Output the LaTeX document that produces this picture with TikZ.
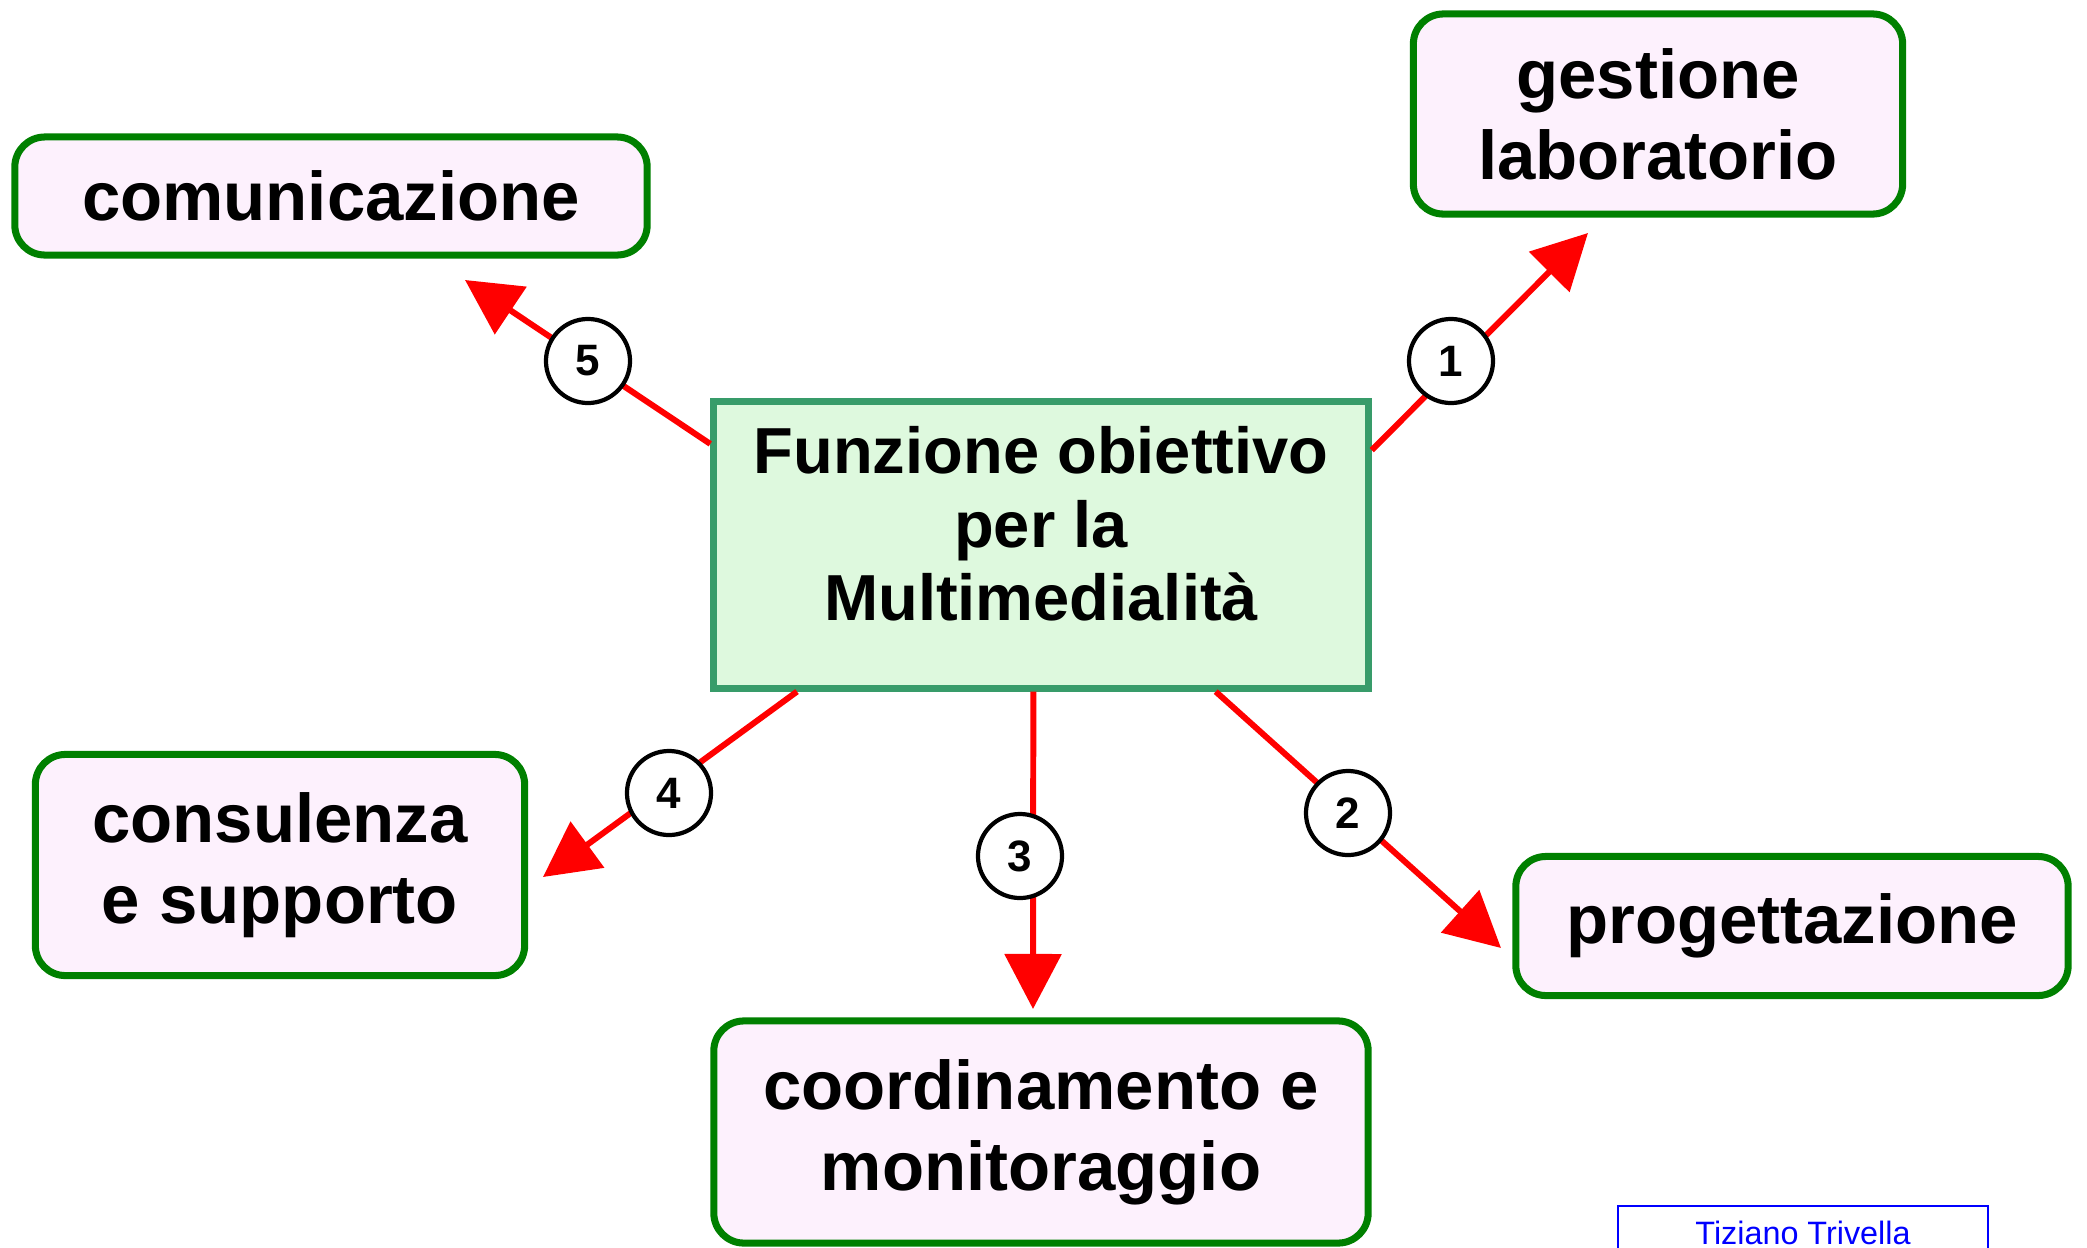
\documentclass[tikz,border=0pt]{standalone}
\usepackage{fontspec}
\setmainfont{Liberation Sans}
\usetikzlibrary{arrows.meta}
\definecolor{topicgreen}{RGB}{0,128,0}
\definecolor{maingreen}{RGB}{56,156,106}
\definecolor{mainfill}{RGB}{222,249,222}
\definecolor{topicfill}{RGB}{253,241,253}

\tikzset{
  topic/.style={draw=topicgreen,line width=2pt,fill=topicfill,rounded corners=0.3cm,
    align=center,inner sep=0pt,font=\bfseries\fontsize{19.6}{23}\selectfont},
  mainbox/.style={draw=maingreen,line width=2pt,fill=mainfill,align=center,inner sep=0pt,
    font=\bfseries\fontsize{18.5}{21}\selectfont},
  arr/.style={draw=red,line width=1.7pt,-{Triangle[length=0.55cm,width=0.56cm]}},
  num/.style={circle,draw=black,line width=1.2pt,fill=white,minimum size=0.84cm,inner sep=0pt,
    font=\bfseries\fontsize{12.5}{14}\selectfont},
  sign/.style={draw=blue,line width=0.6pt,text=blue,minimum width=3.7cm,minimum height=0.54cm,
    inner sep=0pt,font=\fontsize{9.2}{11}\selectfont}
}

\begin{document}
\begin{tikzpicture}[x=0.01cm,y=-0.01cm]
\useasboundingbox (0,0) rectangle (2087,1248);

\node[mainbox,minimum width=6.54cm,minimum height=2.86cm] (fo) at (1041,545)
  {Funzione obiettivo\\per la\\Multimedialità\rule[-0.43cm]{0pt}{0.1cm}};

\node[topic,minimum width=4.89cm,minimum height=2.00cm] (gest) at (1658,114) {gestione\\laboratorio};
\node[topic,minimum width=5.52cm,minimum height=1.39cm] (prog) at (1792,926) {progettazione};
\node[topic,minimum width=6.54cm,minimum height=2.22cm] (coord) at (1041,1132) {coordinamento e\\monitoraggio};
\node[topic,minimum width=4.89cm,minimum height=2.21cm] (cons) at (280,865) {consulenza\\e supporto};
\node[topic,minimum width=6.32cm,minimum height=1.18cm] (com) at (331,196) {comunicazione};

\coordinate (t1) at (1588,233);
\coordinate (t2) at (1501,948);
\coordinate (t3) at (1033,1009);
\coordinate (t4) at (543,877);
\coordinate (t5) at (465,280);

\draw[arr] (fo.16) -- (t1);
\draw[arr] (fo.-40) -- (t2);
\draw[arr] (fo.-93) -- (t3);
\draw[arr] (fo.-149) -- (t4);
\draw[arr] (fo.163) -- (t5);

\node[num] (n1) at (1451,361) {1};
\node[num] (n2) at (1348,813) {2};
\node[num] (n3) at (1020,856) {3};
\node[num] (n4) at (669,793) {4};
\node[num] (n5) at (588,361) {5};

\node[sign,anchor=north] (sig) at (1803,1205) {Tiziano Trivella};
\end{tikzpicture}
\end{document}
